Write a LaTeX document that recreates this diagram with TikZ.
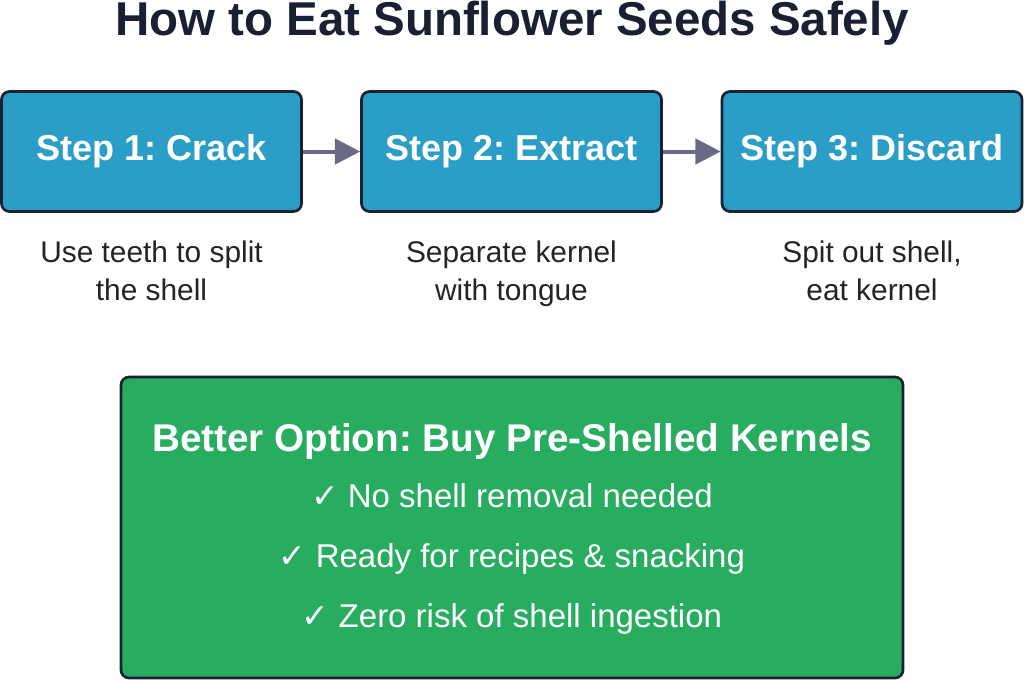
\documentclass[tikz,border=0pt]{standalone}
\usepackage{fontspec}
\setmainfont{Liberation Sans}
\newfontfamily\checkfont{DejaVu Sans}
\usepackage{tikz}
\usetikzlibrary{arrows,arrows.meta,positioning,calc}
\usepackage{xcolor}
\definecolor{stepblue}{RGB}{42,158,198}
\definecolor{optgreen}{RGB}{40,173,96}
\definecolor{edgedark}{RGB}{24,34,48}
\definecolor{arrowgray}{RGB}{106,106,132}
\definecolor{titleink}{RGB}{27,31,50}
\definecolor{textink}{RGB}{36,36,40}
\frenchspacing

\tikzset{
  stepbox/.style={draw=edgedark, line width=2pt, fill=stepblue, rounded corners=6pt,
                  minimum width=225pt, minimum height=90pt, text=white,
                  font=\fontsize{27}{32}\selectfont\bfseries},
  stepnote/.style={align=center, anchor=base, text=textink, font=\fontsize{22.4}{28.5}\selectfont},
  flow/.style={draw=arrowgray, line width=3pt, -{Triangle[length=19pt,width=19pt]}},
  optline/.style={anchor=base, text=white, font=\fontsize{24.75}{30}\selectfont}
}

\begin{document}
\begin{tikzpicture}[x=0.75pt,y=-0.75pt]
  \useasboundingbox (0,0) rectangle (1024,679);

  \node[anchor=base, text=titleink, font=\fontsize{35.6}{42}\selectfont\bfseries] (title) at (512,35.5) {How to Eat Sunflower Seeds Safely};

  \node[stepbox] (crack) at (151.5,151.5) {Step 1: Crack};
  \node[stepbox] (extract) at (511.5,151.5) {Step 2: Extract};
  \node[stepbox] (discard) at (872,151.5) {Step 3: Discard};

  \draw[flow] (crack.east) -- (extract.west);
  \draw[flow] (extract.east) -- (discard.west);

  \node[stepnote] (crackNote) at (151.5,300) {Use teeth to split\\the shell};
  \node[stepnote] (extractNote) at (511.5,300) {Separate kernel\\with tongue};
  \node[stepnote] (discardNote) at (872,300) {Spit out shell,\\eat kernel};

  \node[draw=edgedark, line width=2pt, fill=optgreen, rounded corners=6pt,
        minimum width=586.5pt, minimum height=225.75pt] (better) at (512,527.5) {};
  \node[anchor=base, text=white, font=\fontsize{29}{34}\selectfont\bfseries] (betterTitle) at (512,451) {Better Option: Buy Pre-Shelled Kernels};
  \node[optline] (opt1) at (512,507) {{\checkfont ✓} No shell removal needed};
  \node[optline] (opt2) at (512,567) {{\checkfont ✓} Ready for recipes \& snacking};
  \node[optline] (opt3) at (512,627) {{\checkfont ✓} Zero risk of shell ingestion};
\end{tikzpicture}
\end{document}
